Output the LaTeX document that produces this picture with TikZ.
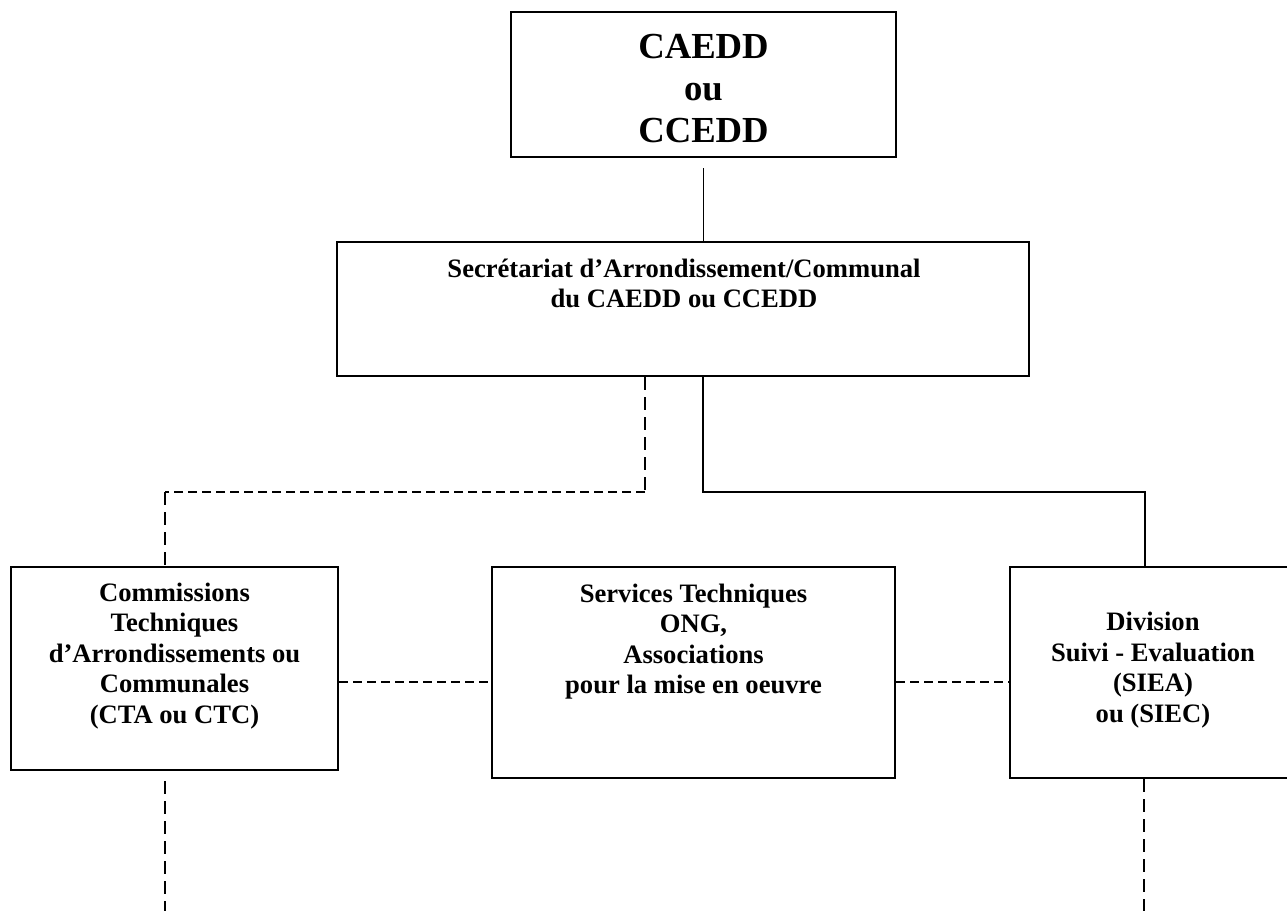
\documentclass[tikz,border=0pt]{standalone}
\usepackage{fontspec}
\setmainfont{Liberation Serif}
\usetikzlibrary{fit,calc}
\begin{document}
\begin{tikzpicture}[x=0.5pt,y=-0.5pt,
  box/.style={draw, line width=1.1pt, inner sep=0pt},
  lbl/.style={font=\bfseries\fontsize{13.3}{15.25}\selectfont, align=center, inner sep=0pt},
  big/.style={font=\bfseries\fontsize{18.35}{21}\selectfont, align=center, inner sep=0pt},
  conn/.style={line width=0.75pt},
  vdash/.style={conn, dash pattern=on 6.5pt off 3.5pt},
  hdash/.style={conn, dash pattern=on 4.5pt off 2.5pt}]
\useasboundingbox (0,0) rectangle (1287,911);
% boxes
\node[box, fit={(511,12)(896,157)}] (top) {};
\node[big] (toptxt) at (703.5,89) {CAEDD\\ou\\CCEDD};
\node[box, fit={(337,242)(1029,376)}] (sec) {};
\node[lbl] (sectxt) at (684,283.5) {Secrétariat d’Arrondissement/Communal\\du CAEDD ou CCEDD};
\node[box, fit={(11,567)(338,770)}] (cta) {};
\node[lbl] (ctatxt) at (174.5,656) {Commissions\\Techniques\\d’Arrondissements ou\\Communales\\(CTA ou CTC)};
\node[box, fit={(492,567)(895,778)}] (st) {};
\node[lbl] (sttxt) at (693.5,641.5) {Services Techniques\\ONG,\\Associations\\pour la mise en oeuvre};
\node[box, fit={(1010,567)(1296,778)}] (sie) {};
\node[lbl] (sietxt) at (1153,670) {Division\\Suivi - Evaluation\\(SIEA)\\ou (SIEC)};
% connectors
\draw[conn, shorten <=5pt] (top.south) -- (top.south |- sec.north);
\coordinate (j1) at (645,492);
\coordinate (j2) at (165,492);
\draw[vdash] (sec.south -| j1) -- (j1);
\draw[hdash] (j1) -- (j2);
\draw[vdash] (j2) -- (j2 |- cta.north);
\coordinate (j3) at (703,492);
\coordinate (j4) at (1145,492);
\draw[conn] (sec.south -| j3) -- (j3) -- (j4) -- (j4 |- sie.north);
\coordinate (h) at (0,682);
\draw[hdash] (cta.east |- h) -- (st.west |- h);
\draw[hdash] (st.east |- h) -- (sie.west |- h);
\coordinate (b1) at (165,911);
\coordinate (b2) at (1144,911);
\draw[vdash] ($(cta.south -| b1)+(0,10)$) -- (b1);
\draw[vdash] (sie.south -| b2) -- (b2);
\end{tikzpicture}
\end{document}
